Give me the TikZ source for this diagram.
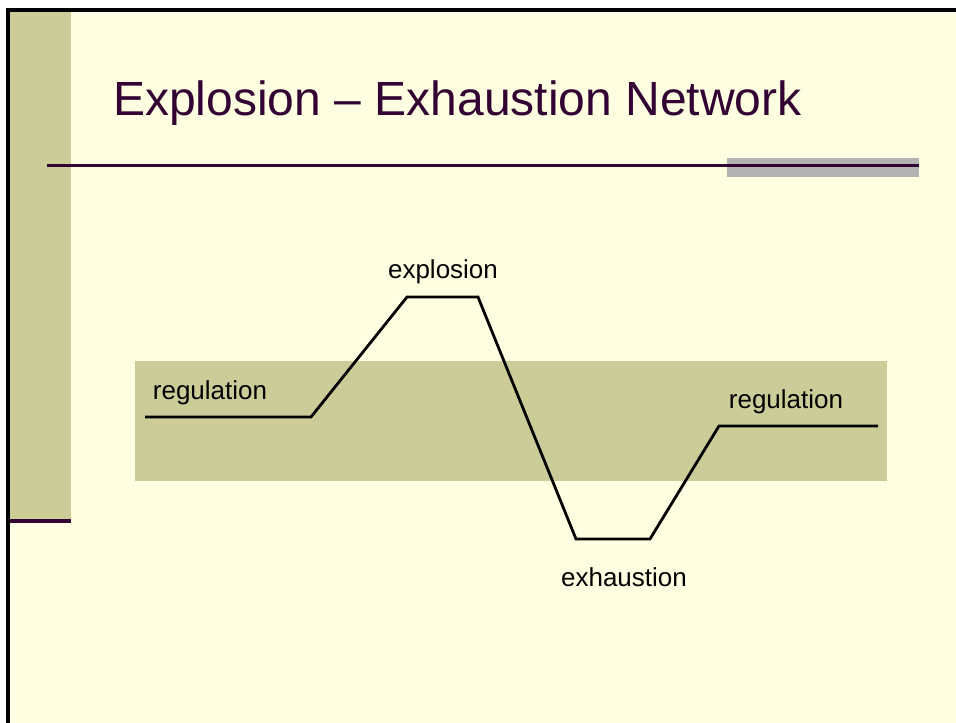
\documentclass[tikz,border=0pt]{standalone}
\usepackage{fontspec}
\setmainfont{Liberation Sans}
\usepackage{tikz}
\usetikzlibrary{calc, positioning}
\definecolor{slidebg}{HTML}{FFFFE1}
\definecolor{olive}{HTML}{CCCC99}
\definecolor{plum}{HTML}{330033}
\definecolor{bargray}{HTML}{B2B2B2}

\begin{document}
\begin{tikzpicture}[x=0.75pt, y=-0.75pt,
    lbl/.style={font=\fontsize{19.5}{22}\selectfont, text=black, inner sep=0pt}]
    \useasboundingbox (0,0) rectangle (956,723);
    \fill[white] (0,0) rectangle (956,723);
    \fill[slidebg] (8,10) rectangle (956,723);
    \fill[olive] (9,11) rectangle (71,519);
    \fill[plum] (9,519) rectangle (71,523);
    \draw[line width=2.4pt] (8,723) -- (8,10) -- (956,10);
    % title and rule
    \node[text=plum, font=\fontsize{36}{40}\selectfont, anchor=west, inner sep=0pt] (title) at (113,103) {Explosion – Exhaustion Network};
    \fill[bargray] (727,158) rectangle (919,177);
    \draw[plum, line width=1.8pt] (47,165.5) -- (919,165.5);
    % the band
    \fill[olive] (135,361) rectangle (887,481);
    % the path
    \coordinate (a) at (145,417);
    \coordinate (b) at (311,417);
    \coordinate (c) at (407,297);
    \coordinate (d) at (478,297);
    \coordinate (e) at (576,539);
    \coordinate (f) at (650,539);
    \coordinate (g) at (719,426);
    \coordinate (h) at (878,426);
    \draw[line width=2.1pt] (a) -- (b) -- (c) -- (d) -- (e) -- (f) -- (g) -- (h);
    \node[lbl] (reg1) at (210,393) {regulation};
    \node[lbl] (expl) at (443,272) {explosion};
    \node[lbl] (reg2) at (786,402) {regulation};
    \node[lbl] (exha) at (624,577) {exhaustion};
\end{tikzpicture}
\end{document}
